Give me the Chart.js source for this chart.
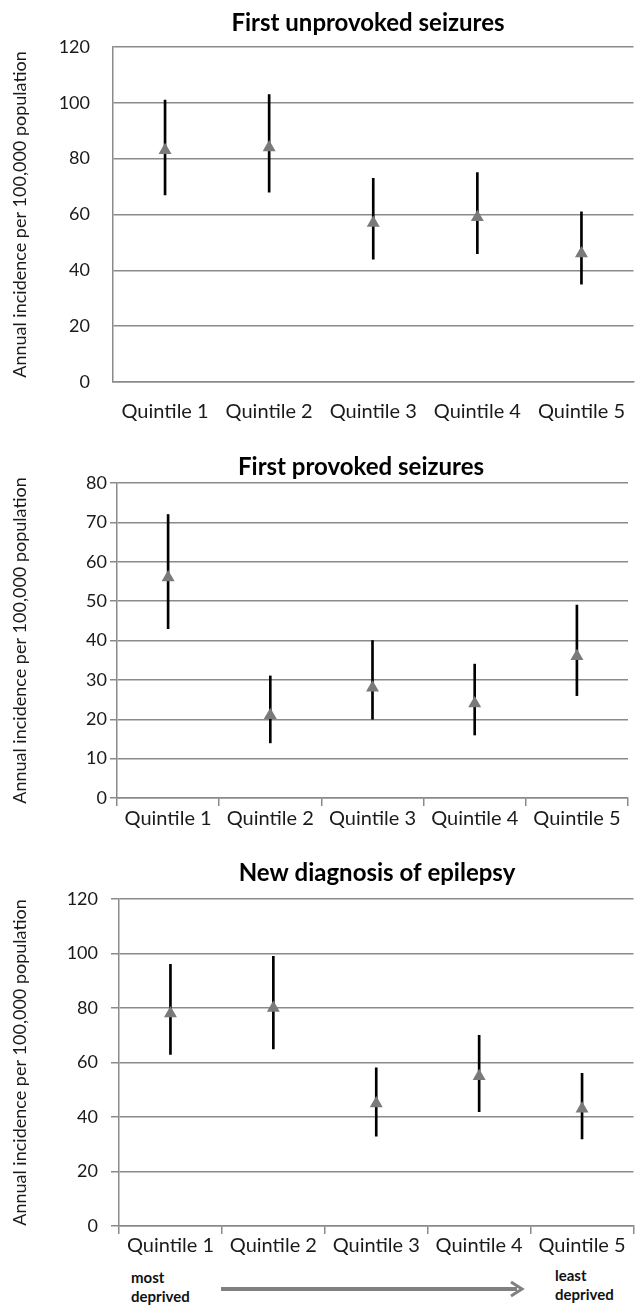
<!DOCTYPE html>
<html>
<head>
<meta charset="utf-8">
<script src="https://cdn.jsdelivr.net/npm/chart.js@4.4.1/dist/chart.umd.min.js"></script>
<style>
  body { margin: 0; background: #fff; width: 641px; height: 1306px; position: relative; overflow: hidden; font-family: Lato, sans-serif; }
  .box { position: absolute; left: 0; width: 641px; }
  .note { position: absolute; font-weight: bold; font-size: 15px; line-height: 19px; color: #111; }
</style>
</head>
<body>
<div class="box" style="top:0;height:432px"><canvas id="unprovokedChart"></canvas></div>
<div class="box" style="top:430px;height:405px"><canvas id="provokedChart"></canvas></div>
<div class="box" style="top:835px;height:431px"><canvas id="epilepsyChart"></canvas></div>

<div class="note" style="left:131px;top:1268px">most<br>deprived</div>
<div class="note" style="left:555px;top:1266px">least<br>deprived</div>
<svg style="position:absolute;left:215px;top:1278px" width="320" height="22">
  <line x1="6" y1="11" x2="302" y2="11" stroke="#808080" stroke-width="4"/>
  <polyline points="296,4 307,11 296,18" fill="none" stroke="#808080" stroke-width="3"/>
</svg>

<script>
// categories
const quintiles = ['Quintile 1', 'Quintile 2', 'Quintile 3', 'Quintile 4', 'Quintile 5'];

// First unprovoked seizures (rate and 95% CI)
const unprovokedRate = [83, 84, 57, 59, 46];
const unprovokedLow = [67, 68, 44, 46, 35];
const unprovokedHigh = [101, 103, 73, 75, 61];

// First provoked seizures
const provokedRate = [56, 21, 28, 24, 36];
const provokedLow = [43, 14, 20, 16, 26];
const provokedHigh = [72, 31, 40, 34, 49];

// New diagnosis of epilepsy
const epilepsyRate = [78, 80, 45, 55, 43];
const epilepsyLow = [63, 65, 33, 42, 32];
const epilepsyHigh = [96, 99, 58, 70, 56];

// y axis ranges: min, max, step
const unprovokedTicks = [0, 120, 20];
const provokedTicks = [0, 80, 10];
const epilepsyTicks = [0, 120, 20];

const yTitle = 'Annual incidence per 100,000 population';
const gridGrey = '#8a8a8a';
const textCol = '#1a1a1a';

// panel heading, drawn over the plot centre like the original
const panelTitle = {
    id: 'panelTitle',
    afterDraw(chart, args, opts) {
        const ctx = chart.ctx;
        ctx.save();
        ctx.font = 'bold 24px Lato';
        ctx.fillStyle = '#000';
        ctx.textAlign = 'center';
        ctx.textBaseline = 'middle';
        ctx.fillText(opts.text, opts.x, opts.y);
        ctx.restore();
    }
};

function drawPanel(id, title, rate, low, high, ticks, look) {
    const ranges = low.map((l, i) => [l, high[i]]);
    new Chart(document.getElementById(id).getContext('2d'), {
        data: {
            labels: quintiles,
            datasets: [
                {
                    type: 'line',
                    data: rate,
                    showLine: false,
                    pointStyle: 'triangle',
                    pointRadius: 7.5,
                    backgroundColor: '#7a7a7a',
                    borderWidth: 0,
                    order: 0
                },
                {
                    type: 'bar',
                    data: ranges,
                    backgroundColor: '#000',
                    barThickness: 2,
                    order: 1
                }
            ]
        },
        plugins: [panelTitle],
        options: {
            responsive: true,
            maintainAspectRatio: false,
            animation: false,
            layout: { padding: { left: 0, right: look.padRight, top: look.padTop, bottom: 0 } },
            plugins: {
                legend: { display: false },
                tooltip: { enabled: false },
                title: { display: false },
                panelTitle: { text: title, x: look.titleX, y: look.titleY }
            },
            scales: {
                x: {
                    offset: true,
                    grid: {
                        offset: true,
                        display: look.xTicks,
                        drawOnChartArea: false,
                        drawTicks: true,
                        tickLength: 8,
                        color: gridGrey,
                        lineWidth: 1.5
                    },
                    border: { color: gridGrey, width: 1.5 },
                    ticks: {
                        color: textCol,
                        font: { family: 'Lato', size: 20 },
                        padding: look.xPad,
                        maxRotation: 0,
                        autoSkip: false
                    },
                    afterFit: s => { s.height = look.xHeight; }
                },
                y: {
                    min: ticks[0],
                    max: ticks[1],
                    ticks: {
                        stepSize: ticks[2],
                        color: textCol,
                        font: { family: 'Lato', size: 18 },
                        padding: look.yPad
                    },
                    grid: {
                        color: gridGrey,
                        lineWidth: 1.5,
                        drawTicks: look.yTickLen > 0,
                        tickLength: look.yTickLen
                    },
                    border: { color: gridGrey, width: 1.5 },
                    title: {
                        display: true,
                        text: yTitle,
                        color: textCol,
                        font: { family: 'Lato', size: 18, lineHeight: 1.2 },
                        padding: { top: 9, bottom: 0 }
                    },
                    afterFit: s => { s.width = look.yWidth; }
                }
            }
        }
    });
}

drawPanel('unprovokedChart', 'First unprovoked seizures', unprovokedRate, unprovokedLow, unprovokedHigh, unprovokedTicks,
    { padRight: 0, padTop: 47, titleX: 368, titleY: 23, xTicks: false, xPad: 9.5, xHeight: 50, yPad: 23, yTickLen: 0, yWidth: 113 });
drawPanel('provokedChart', 'First provoked seizures', provokedRate, provokedLow, provokedHigh, provokedTicks,
    { padRight: 13, padTop: 53, titleX: 361, titleY: 37, xTicks: true, xPad: 1, xHeight: 37, yPad: 3, yTickLen: 7, yWidth: 117 });
drawPanel('epilepsyChart', 'New diagnosis of epilepsy', epilepsyRate, epilepsyLow, epilepsyHigh, epilepsyTicks,
    { padRight: 4, padTop: 64, titleX: 377, titleY: 38, xTicks: true, xPad: 0, xHeight: 40, yPad: 13, yTickLen: 8, yWidth: 119 });
</script>
</body>
</html>
